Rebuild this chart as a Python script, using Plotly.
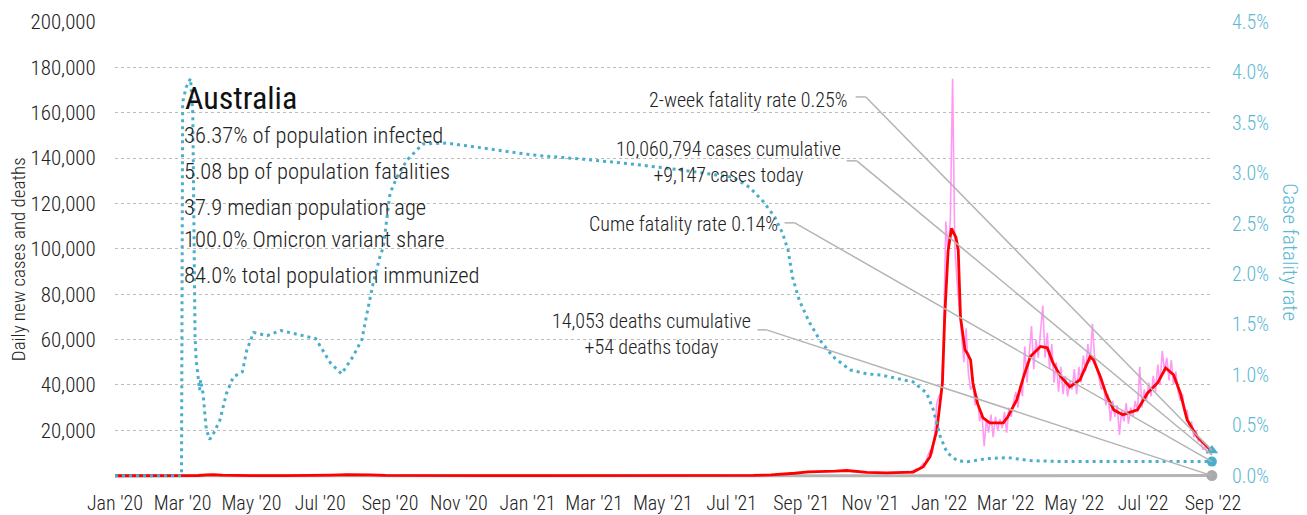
import plotly.graph_objects as go
import pandas as pd

FONT = "Roboto Condensed Light, Roboto Condensed, Liberation Sans Narrow, DejaVu Sans Condensed, sans-serif"
FONT_REG = "Roboto Condensed, Liberation Sans Narrow, DejaVu Sans Condensed, sans-serif"

# ---------------- data ----------------
# 7-day average of daily new cases (red)
avg_dates = [
    "2020-01-01", "2020-01-25", "2020-02-20", "2020-03-05", "2020-03-15", "2020-03-22",
    "2020-03-28", "2020-04-05", "2020-04-15", "2020-05-01", "2020-06-01", "2020-06-25",
    "2020-07-10", "2020-07-25", "2020-08-05", "2020-08-15", "2020-08-28", "2020-09-15",
    "2020-10-15", "2020-12-01", "2020-12-25", "2021-02-01", "2021-05-01", "2021-06-25",
    "2021-07-20", "2021-08-05", "2021-08-15", "2021-08-26", "2021-09-07", "2021-09-20",
    "2021-10-01", "2021-10-11", "2021-10-20", "2021-10-29", "2021-11-15", "2021-12-01",
    "2021-12-09", "2021-12-18", "2021-12-24", "2021-12-30", "2022-01-04", "2022-01-06",
    "2022-01-09", "2022-01-12", "2022-01-16", "2022-01-18", "2022-01-20", "2022-01-24",
    "2022-01-26", "2022-01-29", "2022-01-31", "2022-02-04", "2022-02-09", "2022-02-15",
    "2022-02-27", "2022-03-03", "2022-03-11", "2022-03-17", "2022-03-23", "2022-04-01",
    "2022-04-07", "2022-04-12", "2022-04-19", "2022-04-27", "2022-05-06", "2022-05-15",
    "2022-05-18", "2022-05-24", "2022-05-30", "2022-06-05", "2022-06-13", "2022-06-26",
    "2022-07-05", "2022-07-14", "2022-07-21", "2022-07-28", "2022-08-03", "2022-08-09",
    "2022-08-18", "2022-08-27", "2022-08-31",
]
avg_cases = [
    0, 1, 2, 10, 100, 350,
    450, 250, 50, 15, 10, 50,
    250, 500, 550, 350, 120, 40,
    15, 10, 20, 10, 15, 30,
    150, 350, 600, 1100, 1700, 1800,
    2000, 2300, 2000, 1500, 1300, 1400,
    1600, 4000, 8400, 20000, 41000, 70000,
    99000, 109000, 105000, 99500, 70000, 55500,
    54000, 51000, 41000, 32000, 25500, 23300,
    23300, 26000, 33500, 43700, 52500, 57000,
    56400, 49800, 43700, 39200, 42300, 52500,
    51000, 43700, 35000, 29000, 26900, 29000,
    36500, 41000, 47500, 44500, 36500, 24700,
    17200, 12800, 10400,
]

# daily new cases (pink), every second day, Dec 2021 - Aug 2022
daily_cases = [
    # Dec 2021
    1600, 1900, 1500, 2200, 2400, 3000, 2800, 4200, 5500, 5300, 9000, 11000, 9500, 18000, 32000,
    # Jan 2022
    35000, 37000, 61000, 112000, 98000, 113000, 175000, 100000, 85000, 75000, 62000, 50000,
    65000, 45000, 38000, 40000,
    # Feb
    31000, 35000, 24000, 28000, 13000, 25000, 19000, 27000, 17000, 26000, 20000, 25000, 21000, 28000,
    # Mar
    19000, 30000, 26000, 32000, 37000, 30000, 40000, 35000, 57000, 41000, 55000, 66000, 47000, 60000, 52000,
    # Apr
    62000, 75000, 52000, 63000, 47000, 58000, 41000, 50000, 37000, 48000, 36000, 44000, 35000, 42000, 38000,
    # May
    47000, 36000, 48000, 41000, 53000, 46000, 58000, 50000, 67000, 52000, 47000, 43000, 38000, 40000,
    31000, 36000,
    # Jun
    24000, 33000, 26000, 31000, 18000, 29000, 24000, 32000, 23000, 30000, 26000, 33000, 28000, 48000, 30000,
    # Jul
    38000, 33000, 41000, 35000, 44000, 37000, 49000, 40000, 55000, 46000, 52000, 42000, 51000, 40000, 46000,
    # Aug
    37000, 33000, 36000, 27000, 29000, 22000, 24000, 17000, 20000, 15000, 16000, 11500, 13000, 10000,
    11000, 9147,
]
daily_dates = pd.date_range(end="2022-08-31", periods=len(daily_cases), freq="2D")

# daily deaths (grey, near the baseline)
death_dates = [
    "2020-01-01", "2020-03-01", "2020-04-05", "2020-05-01", "2020-07-20", "2020-08-10",
    "2020-09-10", "2020-10-15", "2021-08-01", "2021-09-20", "2021-10-15", "2021-12-01",
    "2022-01-20", "2022-02-15", "2022-04-15", "2022-06-01", "2022-07-25", "2022-08-31",
]
death_values = [0, 0, 3, 1, 8, 20, 10, 0, 1, 12, 15, 3, 70, 40, 35, 40, 80, 54]

# cumulative case fatality rate, percent (blue dotted, right axis)
cfr_dates = [
    "2020-01-01", "2020-02-29", "2020-03-01", "2020-03-04", "2020-03-08", "2020-03-10",
    "2020-03-11", "2020-03-12", "2020-03-13", "2020-03-15", "2020-03-16", "2020-03-17",
    "2020-03-19", "2020-03-22", "2020-03-25", "2020-03-28", "2020-04-03", "2020-04-09",
    "2020-04-15", "2020-04-23", "2020-04-27", "2020-05-03", "2020-05-15", "2020-05-27",
    "2020-06-13", "2020-06-27", "2020-07-10", "2020-07-20", "2020-07-30", "2020-08-07",
    "2020-08-11", "2020-08-17", "2020-08-23", "2020-08-26", "2020-09-01", "2020-09-07",
    "2020-09-16", "2020-09-30", "2020-10-21", "2020-11-22", "2021-01-06", "2021-02-19",
    "2021-04-05", "2021-05-19", "2021-07-02", "2021-07-17", "2021-07-29", "2021-08-08",
    "2021-08-15", "2021-08-20", "2021-08-24", "2021-08-30", "2021-09-08", "2021-09-17",
    "2021-09-29", "2021-10-14", "2021-10-29", "2021-11-10", "2021-11-25", "2021-12-09",
    "2021-12-21", "2021-12-27", "2022-01-02", "2022-01-08", "2022-01-17", "2022-01-26",
    "2022-02-13", "2022-03-03", "2022-03-23", "2022-04-21", "2022-06-04", "2022-08-31",
]
cfr_values = [
    0.0, 0.0, 3.70, 3.85, 3.94, 3.60,
    2.50, 1.38, 1.15, 0.95, 0.85, 0.95,
    0.82, 0.46, 0.36, 0.41, 0.55, 0.82,
    0.98, 1.03, 1.25, 1.42, 1.39, 1.44,
    1.40, 1.36, 1.12, 1.01, 1.18, 1.35,
    1.58, 1.91, 2.17, 2.27, 2.80, 2.96,
    3.13, 3.29, 3.30, 3.25, 3.18, 3.14,
    3.09, 3.03, 2.96, 2.86, 2.72, 2.57,
    2.41, 2.24, 1.97, 1.74, 1.52, 1.35,
    1.18, 1.05, 1.01, 1.00, 0.96, 0.93,
    0.82, 0.65, 0.39, 0.23, 0.15, 0.14,
    0.17, 0.18, 0.15, 0.14, 0.14, 0.14,
]
two_week_cfr = 0.25

country = "Australia"
stats_lines = [
    "36.37% of population infected",
    "5.08 bp of population fatalities",
    "37.9 median population age",
    "100.0% Omicron variant share",
    "84.0% total population immunized",
]

x_tick_dates = [
    "2020-01-01", "2020-03-01", "2020-05-01", "2020-07-01", "2020-09-01", "2020-11-01",
    "2021-01-01", "2021-03-01", "2021-05-01", "2021-07-01", "2021-09-01", "2021-11-01",
    "2022-01-01", "2022-03-01", "2022-05-01", "2022-07-01", "2022-09-01",
]
x_tick_labels = [
    "Jan '20", "Mar '20", "May '20", "Jul '20", "Sep '20", "Nov '20",
    "Jan '21", "Mar '21", "May '21", "Jul '21", "Sep '21", "Nov '21",
    "Jan '22", "Mar '22", "May '22", "Jul '22", "Sep '22",
]
left_ticks = [20000, 40000, 60000, 80000, 100000, 120000, 140000, 160000, 180000, 200000]
right_ticks = [0.0, 0.5, 1.0, 1.5, 2.0, 2.5, 3.0, 3.5, 4.0, 4.5]

# ---------------- styles ----------------
BLUE = "#4aaecb"
BLUE_TXT = "#5db8d3"
PINK = "#ff99f5"
RED = "#ff0000"
GREY = "#b4b4b4"
TXT = "#222222"

fig = go.Figure()

fig.add_trace(go.Scatter(x=death_dates, y=death_values, mode="lines",
                         line=dict(color=GREY, width=3), hoverinfo="skip"))
fig.add_trace(go.Scatter(x=daily_dates, y=daily_cases, mode="lines",
                         line=dict(color=PINK, width=1.6), hoverinfo="skip"))
fig.add_trace(go.Scatter(x=avg_dates, y=avg_cases, mode="lines",
                         line=dict(color=RED, width=2.8), hoverinfo="skip"))
fig.add_trace(go.Scatter(x=cfr_dates, y=cfr_values, mode="lines", yaxis="y2",
                         line=dict(color=BLUE, width=3, dash="3px,4px"), hoverinfo="skip"))

last_date = cfr_dates[-1]
fig.add_trace(go.Scatter(x=[last_date], y=[death_values[-1]], mode="markers", cliponaxis=False,
                         marker=dict(color="#aaaaaa", size=11), hoverinfo="skip"))
fig.add_trace(go.Scatter(x=[last_date], y=[cfr_values[-1]], mode="markers", yaxis="y2",
                         cliponaxis=False, marker=dict(color=BLUE, size=10), hoverinfo="skip"))
fig.add_trace(go.Scatter(x=[last_date], y=[two_week_cfr], mode="markers", yaxis="y2",
                         cliponaxis=False, marker=dict(color=BLUE, size=11, symbol="triangle-up"),
                         hoverinfo="skip"))

# ---------------- leader lines ----------------
leaders = [
    # (stub start, stub end, stub y, yref, end value)
    ("2021-10-19", "2021-10-28", 3.757, "y2", two_week_cfr),
    ("2021-10-11", "2021-10-20", 138800, "y", daily_cases[-1]),
    ("2021-08-17", "2021-08-26", 2.508, "y2", cfr_values[-1]),
    ("2021-07-24", "2021-08-01", 64300, "y", death_values[-1]),
]
shapes = []
for x0, x1, ys, yref, yend in leaders:
    shapes.append(dict(type="line", xref="x", yref=yref, x0=x0, x1=x1, y0=ys, y1=ys,
                       line=dict(color=GREY, width=1.5)))
    shapes.append(dict(type="line", xref="x", yref=yref, x0=x1, x1=last_date, y0=ys, y1=yend,
                       line=dict(color=GREY, width=1.5)))

# ---------------- annotations ----------------
ann = []
ann.append(dict(text=country, xref="paper", yref="paper", x=0.0619, y=0.8333,
                xanchor="left", yanchor="middle", showarrow=False,
                font=dict(size=32, color="#111111", family=FONT_REG)))
stat_y = [0.7522, 0.6732, 0.5943, 0.5241, 0.4452]
for t, yy in zip(stats_lines, stat_y):
    ann.append(dict(text=t, xref="paper", yref="paper", x=0.061, y=yy,
                    xanchor="left", yanchor="middle", showarrow=False,
                    font=dict(size=22.5, color=TXT, family=FONT)))

labels = [
    ("2-week fatality rate 0.25%", 0.6694, 0.829),
    ("10,060,794 cases cumulative<br>+9,147 cases today", 0.6627, 0.6919),
    ("Cume fatality rate 0.14%", 0.6056, 0.557),
    ("14,053 deaths cumulative<br>+54 deaths today", 0.5813, 0.3158),
]
for t, xx, yy in labels:
    ann.append(dict(text=t, xref="paper", yref="paper", x=xx, y=yy, xanchor="right",
                    yanchor="middle", align="center", showarrow=False,
                    font=dict(size=20, color=TXT, family=FONT)))

ann.append(dict(text="Daily new cases and deaths", xref="paper", yref="paper",
                x=-0.0883, y=0.48, textangle=-90, showarrow=False,
                xanchor="center", yanchor="middle", font=dict(size=19, color=TXT, family=FONT)))
ann.append(dict(text="Case fatality rate", xref="paper", yref="paper",
                x=1.0701, y=0.495, textangle=90, showarrow=False,
                xanchor="center", yanchor="middle", font=dict(size=21, color=BLUE_TXT, family=FONT)))

fig.update_layout(
    width=1307, height=515,
    margin=dict(l=115, r=94, t=22, b=37, autoexpand=False),
    plot_bgcolor="white", paper_bgcolor="white",
    showlegend=False,
    font=dict(family=FONT, size=20, color=TXT),
    shapes=shapes,
    annotations=ann,
    xaxis=dict(type="date", range=["2020-01-01", "2022-09-01"], tickvals=x_tick_dates,
               ticktext=x_tick_labels, showgrid=False, zeroline=False, showline=False,
               ticks="outside", ticklen=7, tickcolor="rgba(0,0,0,0)", tickangle=0,
               automargin=False, tickfont=dict(size=20, color=TXT, family=FONT)),
    yaxis=dict(range=[-1000, 200000], tickvals=left_ticks,
               ticktext=[f"{v:,}" for v in left_ticks], showgrid=True, gridcolor="#bbbbbb",
               griddash="dot", gridwidth=1, zeroline=False, showline=False,
               ticks="outside", ticklen=14, tickcolor="rgba(0,0,0,0)", automargin=False,
               tickfont=dict(size=21, color=TXT, family=FONT)),
    yaxis2=dict(range=[-0.0225, 4.5], overlaying="y", side="right", tickvals=right_ticks,
                ticktext=[f"{v:.1f}%" for v in right_ticks], showgrid=False, zeroline=False,
                showline=False, ticks="outside", ticklen=14, tickcolor="rgba(0,0,0,0)",
                automargin=False, tickfont=dict(size=20, color=BLUE_TXT, family=FONT)),
)

fig.write_html("out.html", config={"displayModeBar": False},
               post_script="document.body.style.margin='0';")
